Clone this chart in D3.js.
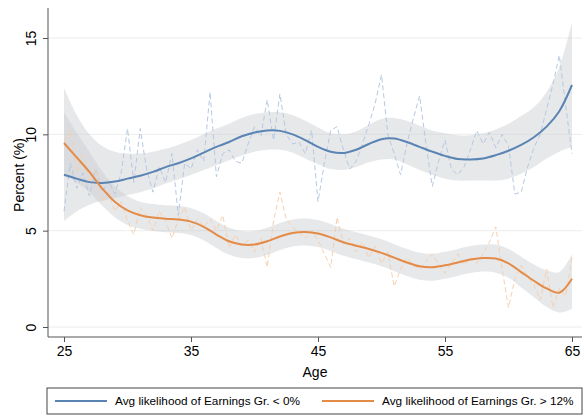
<!DOCTYPE html>
<html>
<head>
<meta charset="utf-8">
<script src="https://cdn.jsdelivr.net/npm/d3@7"></script>
<style>
  html, body { margin: 0; padding: 0; background: #fff; }
  svg { display: block; font-family: "Liberation Sans", Arial, Helvetica, sans-serif; }
</style>
</head>
<body>
<div id="chart"></div>
<script>
// ── Data ────────────────────────────────────────────────────────────────────
const X_TICKS = [25, 35, 45, 55, 65];
const Y_TICKS = [0, 5, 10, 15];
const X_LABEL = 'Age';
const Y_LABEL = 'Percent (%)';
const LEGEND_NEG = 'Avg likelihood of Earnings Gr. < 0%';
const LEGEND_POS = 'Avg likelihood of Earnings Gr. > 12%';

// smoothed fit, one value per year of age 25..65
const SMOOTH_AGES = d3.range(25, 66);
const NEG_FIT = [7.9, 7.7, 7.52, 7.48, 7.55, 7.7, 7.85, 8.05, 8.3, 8.5,
  8.75, 9.05, 9.35, 9.6, 9.9, 10.1, 10.2, 10.18, 10.0, 9.7,
  9.35, 9.1, 9.03, 9.2, 9.5, 9.75, 9.78, 9.6, 9.35, 9.1,
  8.88, 8.72, 8.7, 8.75, 8.92, 9.15, 9.45, 9.85, 10.4, 11.2, 12.56];
const NEG_LO = [5.5, 6.0, 6.35, 6.55, 6.7, 6.85, 7.0, 7.2, 7.45, 7.65,
  7.9, 8.15, 8.4, 8.65, 8.9, 9.1, 9.2, 9.2, 9.05, 8.75,
  8.45, 8.2, 8.15, 8.3, 8.55, 8.7, 8.7, 8.45, 8.15, 7.9,
  7.7, 7.6, 7.6, 7.6, 7.6, 7.7, 7.95, 8.3, 8.75, 9.1, 9.35];
const NEG_HI = [12.4, 11.0, 10.0, 9.4, 9.1, 9.0, 9.0, 9.1, 9.25, 9.45,
  9.7, 10.0, 10.3, 10.55, 10.85, 11.05, 11.15, 11.15, 11.0, 10.7,
  10.35, 10.05, 10.0, 10.15, 10.5, 10.8, 10.85, 10.7, 10.45, 10.2,
  10.05, 9.95, 9.95, 10.05, 10.25, 10.55, 10.95, 11.4, 12.2, 13.5, 15.8];
const POS_FIT = [9.55, 8.8, 8.05, 7.2, 6.5, 6.05, 5.8, 5.68, 5.62, 5.58,
  5.47, 5.2, 4.8, 4.45, 4.28, 4.28, 4.45, 4.7, 4.88, 4.93,
  4.85, 4.65, 4.4, 4.22, 4.05, 3.85, 3.6, 3.35, 3.15, 3.1,
  3.2, 3.35, 3.5, 3.58, 3.55, 3.3, 2.85, 2.4, 2.0, 1.78, 2.5];
const POS_LO = [7.95, 7.5, 7.0, 6.3, 5.7, 5.3, 5.1, 4.98, 4.92, 4.88,
  4.77, 4.5, 4.1, 3.75, 3.58, 3.58, 3.75, 4.0, 4.18, 4.23,
  4.15, 3.95, 3.7, 3.52, 3.35, 3.15, 2.9, 2.65, 2.45, 2.4,
  2.5, 2.65, 2.8, 2.88, 2.82, 2.55, 2.05, 1.55, 1.05, 0.75, 0.95];
const POS_HI = [11.15, 10.1, 9.1, 8.1, 7.3, 6.8, 6.5, 6.38, 6.32, 6.28,
  6.17, 5.9, 5.5, 5.15, 4.98, 4.98, 5.15, 5.4, 5.58, 5.63,
  5.55, 5.35, 5.1, 4.92, 4.75, 4.55, 4.3, 4.05, 3.85, 3.8,
  3.9, 4.05, 4.2, 4.28, 4.28, 4.05, 3.65, 3.25, 2.95, 2.85, 3.8];

// raw averages, every half year of age 25..65
const RAW_AGES = d3.range(25, 65.5, 0.5);
const NEG_RAW = [6.0, 8.5, 7.2, 8.0, 6.8, 8.2, 7.0, 7.6, 6.9, 8.0,
  10.3, 7.5, 10.3, 8.2, 7.0, 8.3, 7.5, 9.0, 5.8, 8.5,
  8.2, 9.2, 8.6, 12.2, 7.8, 9.0, 9.2, 8.6, 8.5, 9.5,
  10.4, 9.9, 11.8, 9.7, 12.1, 10.0, 9.5, 9.6, 9.0, 10.2,
  6.5, 8.5, 10.2, 10.4, 9.2, 8.2, 8.6, 9.5, 10.5, 11.6,
  13.1, 10.0, 9.0, 7.9, 9.5, 10.8, 12.0, 9.5, 7.3, 8.6,
  9.7, 8.2, 7.9, 8.3, 9.2, 10.2, 9.5, 10.1, 9.3, 10.0,
  9.4, 6.9, 7.0, 8.3, 9.3, 10.0, 11.3, 12.6, 14.1, 11.5, 9.0];
const POS_RAW = [9.6, 10.2, 8.0, 8.9, 7.5, 8.2, 6.5, 7.0, 6.0, 6.5,
  5.5, 4.8, 6.2, 5.8, 5.0, 6.0, 5.5, 4.6, 5.6, 6.2,
  5.0, 5.6, 5.2, 5.6, 5.0, 5.8, 4.1, 4.8, 4.2, 4.5,
  3.9, 4.6, 3.1, 5.5, 7.0, 5.6, 5.2, 4.9, 4.6, 5.0,
  4.5, 3.8, 3.1, 5.7, 4.3, 4.6, 3.9, 4.4, 3.6, 4.2,
  3.3, 3.9, 2.1, 3.0, 3.6, 3.2, 3.0, 3.4, 3.8, 3.2,
  2.8, 3.3, 3.8, 3.2, 3.6, 3.3, 3.8, 4.4, 5.2, 3.0,
  1.0, 2.5, 3.2, 2.6, 2.2, 1.4, 3.0, 1.0, 2.0, 1.6, 3.6];

// ── Chart ───────────────────────────────────────────────────────────────────
const W = 584, H = 419;
const plot = { left: 48, right: 582, top: 8, bottom: 337 };

const BLUE = '#5a84b4';
const ORANGE = '#e48b47';

const svg = d3.select('#chart').append('svg')
  .attr('width', W).attr('height', H);

const x = d3.scaleLinear().domain([25, 65]).range([64, 572]);
const y = d3.scaleLinear().domain([0, 15]).range([327, 38]);

// grid
svg.append('g').selectAll('line')
  .data(Y_TICKS).enter().append('line')
  .attr('x1', plot.left).attr('x2', plot.right)
  .attr('y1', d => y(d)).attr('y2', d => y(d))
  .attr('stroke', '#ececec').attr('stroke-width', 1);

// confidence bands
const band = (lo, hi) => d3.area()
  .x((d, i) => x(SMOOTH_AGES[i]))
  .y0((d, i) => y(lo[i]))
  .y1((d, i) => y(hi[i]))
  .curve(d3.curveCatmullRom.alpha(0.5));

[[NEG_LO, NEG_HI], [POS_LO, POS_HI]].forEach(([lo, hi]) => {
  svg.append('path')
    .datum(lo)
    .attr('d', band(lo, hi))
    .attr('fill', '#c9ccd1')
    .attr('fill-opacity', 0.45);
});

// raw dashed lines
const rawLine = d3.line()
  .x((d, i) => x(RAW_AGES[i]))
  .y(d => y(d));

[[NEG_RAW, '#b6c9e2'], [POS_RAW, '#f5d0b0']].forEach(([vals, col]) => {
  svg.append('path')
    .datum(vals)
    .attr('d', rawLine)
    .attr('fill', 'none')
    .attr('stroke', col)
    .attr('stroke-width', 1)
    .attr('stroke-dasharray', '5,3');
});

// smoothed lines
const fitLine = d3.line()
  .x((d, i) => x(SMOOTH_AGES[i]))
  .y(d => y(d))
  .curve(d3.curveCatmullRom.alpha(0.5));

[[NEG_FIT, BLUE], [POS_FIT, ORANGE]].forEach(([vals, col]) => {
  svg.append('path')
    .datum(vals)
    .attr('d', fitLine)
    .attr('fill', 'none')
    .attr('stroke', col)
    .attr('stroke-width', 2);
});

// axes
const axisCol = '#555';

const yAx = svg.append('g')
  .attr('transform', `translate(${plot.left},0)`)
  .call(d3.axisLeft(y).tickValues(Y_TICKS).tickSize(5));
yAx.select('.domain').remove();
yAx.selectAll('.tick line').attr('stroke', axisCol);
yAx.selectAll('.tick text')
  .attr('transform', 'rotate(-90)')
  .attr('x', 0).attr('y', -12).attr('dy', 0)
  .attr('text-anchor', 'middle')
  .attr('font-size', 14).attr('fill', '#000');

const xAx = svg.append('g')
  .attr('transform', `translate(0,${plot.bottom})`)
  .call(d3.axisBottom(x).tickValues(X_TICKS).tickSize(5).tickPadding(4));
xAx.select('.domain').remove();
xAx.selectAll('.tick line').attr('stroke', axisCol);
xAx.selectAll('.tick text').attr('font-size', 14).attr('fill', '#000');

svg.append('line')
  .attr('x1', plot.left).attr('x2', plot.left)
  .attr('y1', plot.top).attr('y2', plot.bottom)
  .attr('stroke', axisCol);
svg.append('line')
  .attr('x1', plot.left).attr('x2', plot.right)
  .attr('y1', plot.bottom).attr('y2', plot.bottom)
  .attr('stroke', axisCol);

svg.append('text')
  .attr('x', (plot.left + plot.right) / 2).attr('y', 377)
  .attr('text-anchor', 'middle').attr('font-size', 14)
  .text(X_LABEL);

svg.append('text')
  .attr('transform', 'translate(24,175) rotate(-90)')
  .attr('text-anchor', 'middle').attr('font-size', 14)
  .text(Y_LABEL);

// legend
const leg = svg.append('g');
leg.append('rect')
  .attr('x', 47).attr('y', 388).attr('width', 535).attr('height', 26)
  .attr('fill', '#fff').attr('stroke', '#444').attr('stroke-width', 1);

[[LEGEND_NEG, BLUE, 55], [LEGEND_POS, ORANGE, 322]].forEach(([label, col, lx]) => {
  leg.append('line')
    .attr('x1', lx).attr('x2', lx + 52)
    .attr('y1', 401).attr('y2', 401)
    .attr('stroke', col).attr('stroke-width', 2);
  leg.append('text')
    .attr('x', lx + 60).attr('y', 405)
    .attr('font-size', 11.8)
    .text(label);
});
</script>
</body>
</html>
